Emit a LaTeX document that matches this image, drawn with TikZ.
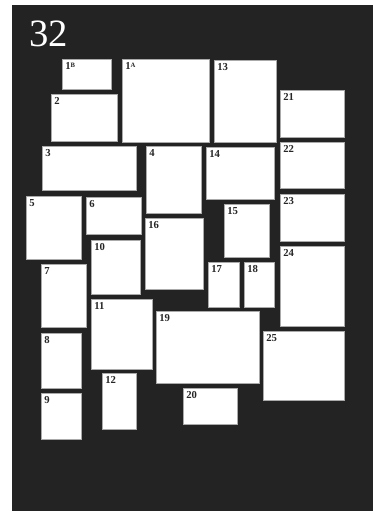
\documentclass[tikz,border=0pt]{standalone}
\usepackage{fontspec}
\setmainfont{Liberation Serif}
\usepackage{tikz}
\usepackage{xcolor}
\usetikzlibrary{positioning}

\definecolor{boardgrey}{RGB}{35,35,35}
\tikzset{
  plate/.style={fill=white, draw={rgb,255:red,170;green,170;blue,170}, line width=0.6},
  num/.style={anchor=north west, inner sep=0pt, font=\fontsize{8}{8}\selectfont\bfseries, text=black!85}
}

\begin{document}
\begin{tikzpicture}[x=0.75pt,y=0.75pt,yscale=-1,xscale=1]
\useasboundingbox (0,0) rectangle (373,513);

%Shape: Rectangle [board]
\fill [white] (0,0) rectangle (373,513);
\fill [boardgrey] (12,5) rectangle (373,511);
%Text [title]
\node [text=white, font=\fontsize{29}{30}\selectfont, inner sep=0pt] (title) at (48.5,33.5) {32};

%Shape: Rectangle [1B]
\draw [plate] (62,59) rectangle (111,89);
\node [num] (n1b) at (65,62) {1\raisebox{0.45ex}{\fontsize{5}{5}\selectfont\bfseries B}};
%Shape: Rectangle [1A]
\draw [plate] (122,59) rectangle (209,142);
\node [num] (n1a) at (125,62) {1\raisebox{0.45ex}{\fontsize{5}{5}\selectfont\bfseries A}};
%Shape: Rectangle [2]
\draw [plate] (51,94) rectangle (117,141);
\node [num] (n2) at (54,97) {2};
%Shape: Rectangle [3]
\draw [plate] (42,146) rectangle (136,190);
\node [num] (n3) at (45,149) {3};
%Shape: Rectangle [4]
\draw [plate] (146,146) rectangle (201,213);
\node [num] (n4) at (149,149) {4};
%Shape: Rectangle [5]
\draw [plate] (26,196) rectangle (81,259);
\node [num] (n5) at (29,199) {5};
%Shape: Rectangle [6]
\draw [plate] (86,197) rectangle (141,234);
\node [num] (n6) at (89,200) {6};
%Shape: Rectangle [7]
\draw [plate] (41,264) rectangle (86,327);
\node [num] (n7) at (44,267) {7};
%Shape: Rectangle [8]
\draw [plate] (41,333) rectangle (81,388);
\node [num] (n8) at (44,336) {8};
%Shape: Rectangle [9]
\draw [plate] (41,393) rectangle (81,439);
\node [num] (n9) at (44,396) {9};
%Shape: Rectangle [10]
\draw [plate] (91,240) rectangle (140,294);
\node [num] (n10) at (94,243) {10};
%Shape: Rectangle [11]
\draw [plate] (91,299) rectangle (152,369);
\node [num] (n11) at (94,302) {11};
%Shape: Rectangle [12]
\draw [plate] (102,373) rectangle (136,429);
\node [num] (n12) at (105,376) {12};
%Shape: Rectangle [13]
\draw [plate] (214,60) rectangle (276,142);
\node [num] (n13) at (217,63) {13};
%Shape: Rectangle [14]
\draw [plate] (206,147) rectangle (274,199);
\node [num] (n14) at (209,150) {14};
%Shape: Rectangle [15]
\draw [plate] (224,204) rectangle (269,257);
\node [num] (n15) at (227,207) {15};
%Shape: Rectangle [16]
\draw [plate] (145,218) rectangle (203,289);
\node [num] (n16) at (148,221) {16};
%Shape: Rectangle [17]
\draw [plate] (208,262) rectangle (239,307);
\node [num] (n17) at (211,265) {17};
%Shape: Rectangle [18]
\draw [plate] (244,262) rectangle (274,307);
\node [num] (n18) at (247,265) {18};
%Shape: Rectangle [19]
\draw [plate] (156,311) rectangle (259,383);
\node [num] (n19) at (159,314) {19};
%Shape: Rectangle [20]
\draw [plate] (183,388) rectangle (237,424);
\node [num] (n20) at (186,391) {20};
%Shape: Rectangle [21]
\draw [plate] (280,90) rectangle (344,137);
\node [num] (n21) at (283,93) {21};
%Shape: Rectangle [22]
\draw [plate] (280,142) rectangle (344,188);
\node [num] (n22) at (283,145) {22};
%Shape: Rectangle [23]
\draw [plate] (280,194) rectangle (344,241);
\node [num] (n23) at (283,197) {23};
%Shape: Rectangle [24]
\draw [plate] (280,246) rectangle (344,326);
\node [num] (n24) at (283,249) {24};
%Shape: Rectangle [25]
\draw [plate] (263,331) rectangle (344,400);
\node [num] (n25) at (266,334) {25};

\end{tikzpicture}
\end{document}
